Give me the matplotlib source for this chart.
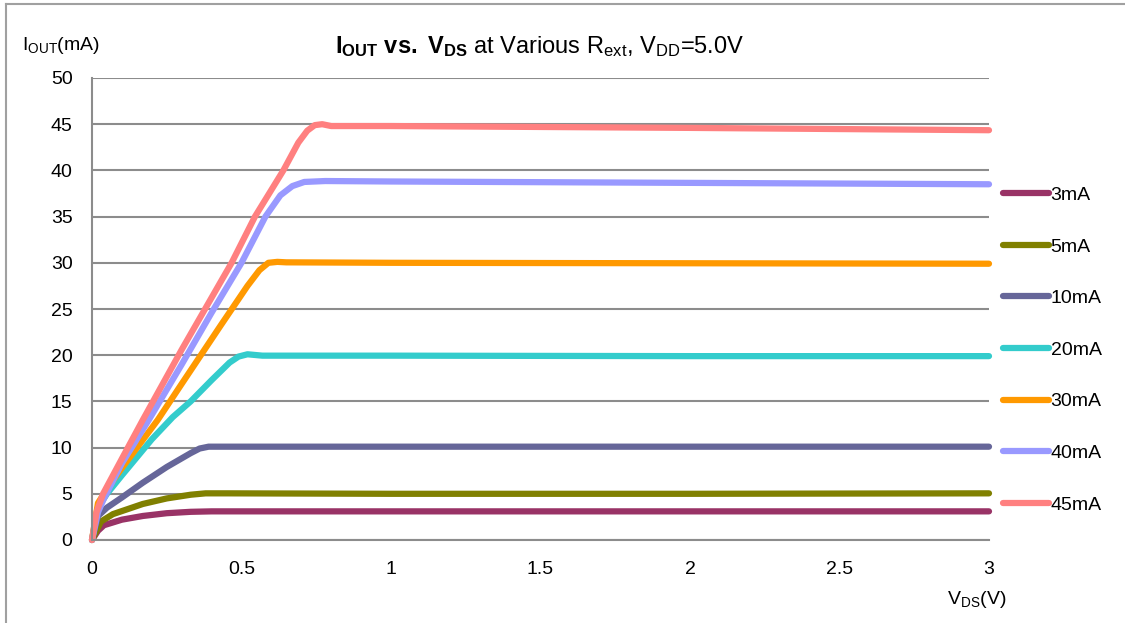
"""I_OUT vs V_DS curves at various R_ext, redrawn from an Excel-style chart."""

import matplotlib
matplotlib.use("Agg")
import matplotlib.pyplot as plt
from matplotlib.lines import Line2D

plt.rcParams["font.family"] = ["Liberation Sans", "DejaVu Sans"]
plt.rcParams["mathtext.fontset"] = "custom"
plt.rcParams["mathtext.rm"] = "Liberation Sans"
plt.rcParams["mathtext.bf"] = "Liberation Sans:bold"
plt.rcParams["mathtext.it"] = "Liberation Sans:italic"

# data (V_DS in V, I_OUT in mA)
v_3ma = [0, 0.02, 0.04, 0.1, 0.17, 0.25, 0.33, 0.4, 1.0, 2.0, 3.0]
i_3ma = [0, 1.0, 1.6, 2.2, 2.6, 2.9, 3.05, 3.1, 3.1, 3.1, 3.1]

v_5ma = [0, 0.03, 0.07, 0.17, 0.25, 0.33, 0.38, 0.45, 1.0, 2.0, 3.0]
i_5ma = [0, 2.0, 2.8, 3.9, 4.5, 4.9, 5.05, 5.05, 5.0, 5.0, 5.05]

v_10ma = [0, 0.02, 0.05, 0.1, 0.17, 0.25, 0.33, 0.36, 0.39, 0.45, 1.0, 2.0, 3.0]
i_10ma = [0, 2.6, 3.5, 4.6, 6.2, 7.9, 9.4, 9.9, 10.1, 10.1, 10.1, 10.1, 10.1]

v_20ma = [0, 0.02, 0.05, 0.1, 0.2, 0.27, 0.33, 0.4, 0.46, 0.49, 0.52, 0.57, 0.6,
          1.0, 2.0, 3.0]
i_20ma = [0, 3.5, 5.0, 7.0, 10.9, 13.3, 15.0, 17.3, 19.2, 19.85, 20.1, 19.95, 19.95,
          19.95, 19.9, 19.9]

v_30ma = [0, 0.02, 0.05, 0.1, 0.22, 0.3, 0.43, 0.52, 0.56, 0.59, 0.62, 0.65, 1.0,
          2.0, 3.0]
i_30ma = [0, 4.0, 5.5, 7.8, 13.0, 16.9, 23.2, 27.5, 29.2, 30.0, 30.1, 30.05, 30.0,
          29.95, 29.9]

v_40ma = [0, 0.02, 0.04, 0.1, 0.19, 0.3, 0.4, 0.5, 0.58, 0.63, 0.67, 0.71, 0.78,
          1.0, 2.0, 3.0]
i_40ma = [0, 3.0, 4.5, 8.3, 13.0, 19.0, 24.6, 30.0, 35.0, 37.3, 38.3, 38.75, 38.85,
          38.8, 38.65, 38.5]

v_45ma = [0, 0.015, 0.037, 0.1, 0.17, 0.3, 0.467, 0.545, 0.64, 0.69, 0.72, 0.745,
          0.77, 0.8, 1.0, 2.0, 3.0]
i_45ma = [0, 3.0, 5.0, 8.8, 13.0, 20.6, 30.0, 35.0, 40.0, 43.0, 44.3, 44.9,
          45.0, 44.8, 44.8, 44.6, 44.35]

labels = ["3mA", "5mA", "10mA", "20mA", "30mA", "40mA", "45mA"]
colors = ["#993366", "#808000", "#666699", "#33CCCC", "#FF9900", "#9999FF", "#FF8080"]
x_ticks = [0, 0.5, 1, 1.5, 2, 2.5, 3]
x_tick_labels = ["0", "0.5", "1", "1.5", "2", "2.5", "3"]
y_ticks = list(range(0, 51, 5))

series = [(v_3ma, i_3ma), (v_5ma, i_5ma), (v_10ma, i_10ma), (v_20ma, i_20ma),
          (v_30ma, i_30ma), (v_40ma, i_40ma), (v_45ma, i_45ma)]

W, H = 1125, 623
fig = plt.figure(figsize=(W / 100, H / 100), dpi=100, facecolor="white")
ax = fig.add_axes([92 / W, 1 - 540 / H, (989 - 92) / W, (540 - 78) / H])

grid_c = "#8C8C8C"
for (v, i), lab, c in zip(series, labels, colors):
    ax.plot(v, i, color=c, lw=4.5, label=lab,
            solid_capstyle="round", solid_joinstyle="round", clip_on=False)

ax.set_xlim(0, 3)
ax.set_ylim(0, 50)
ax.set_xticks(x_ticks)
ax.set_xticklabels(x_tick_labels)
ax.set_yticks(y_ticks)
ax.tick_params(axis="both", length=0, labelsize=14, colors="black")
ax.tick_params(axis="y", pad=14)
ax.tick_params(axis="x", pad=15)
ax.yaxis.grid(True, color=grid_c, lw=1.5)
ax.set_axisbelow(True)
for s in ("top", "right"):
    ax.spines[s].set_visible(False)
for s in ("left", "bottom"):
    ax.spines[s].set_color(grid_c)
    ax.spines[s].set_linewidth(1.5)

ax.legend(loc="center left", bbox_to_anchor=(1003 / W, 1 - 350 / H),
          bbox_transform=fig.transFigure, frameon=False, fontsize=14,
          handlelength=2.35, handletextpad=0.1, labelspacing=1.75,
          borderpad=0, borderaxespad=0)

fig.text(540 / W, 1 - 47 / H,
         r"$\mathbf{I_{OUT}}$ $\mathbf{vs.}$ $\mathbf{V_{DS}}$ at Various "
         r"$\mathrm{R_{ext}}$, $\mathrm{V_{DD}}$=5.0V",
         ha="center", va="center", fontsize=17)
fig.text(22 / W, 1 - 45 / H, r"$\mathrm{I_{OUT}}$(mA)",
         ha="left", va="center", fontsize=14)
fig.text(1006 / W, 1 - 600 / H, r"$\mathrm{V_{DS}}$(V)",
         ha="right", va="center", fontsize=14)

# outer frame (top and left edges only)
fig.add_artist(Line2D([6 / W, 1], [1 - 4 / H, 1 - 4 / H], color="#A0A0A0", lw=1.5))
fig.add_artist(Line2D([6 / W, 6 / W], [0, 1 - 4 / H], color="#A0A0A0", lw=1.5))

fig.savefig("out.png", dpi=100, facecolor="white")
